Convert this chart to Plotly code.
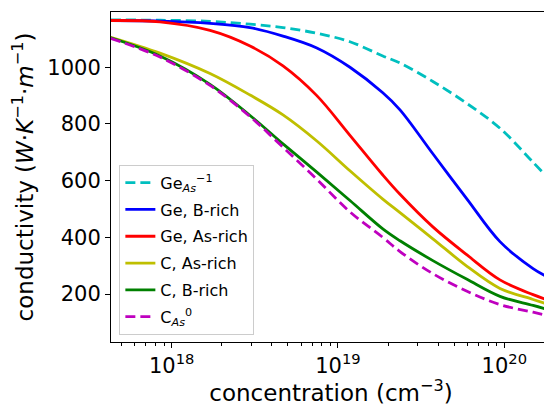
import plotly.graph_objects as go

# concentration (cm^-3)
concentration = [4.3e17, 8.5e17, 1.70e18, 2.96e18, 4.67e18, 7.46e18, 1.18e19,
                 1.86e19, 2.36e19, 3.72e19, 5.97e19, 9.42e19, 1.49e20, 1.93e20]

ge_as_m1 = [1167, 1166, 1162, 1152, 1140, 1120, 1090, 1040, 1015, 950, 872, 785, 665, 595]
ge_b_rich = [1165, 1163, 1155, 1140, 1110, 1068, 1000, 910, 850, 695, 535, 385, 290, 252]
ge_as_rich = [1165, 1160, 1130, 1075, 1005, 900, 760, 620, 552, 437, 338, 250, 198, 174]
c_as_rich = [1106, 1050, 978, 902, 832, 740, 635, 535, 487, 395, 298, 220, 181, 160]
c_b_rich = [1104, 1040, 940, 830, 730, 630, 530, 430, 388, 318, 252, 192, 160, 141]
c_as_0 = [1102, 1036, 936, 826, 718, 605, 490, 400, 350, 272, 210, 163, 136, 121]

series = [
    ("Ge<sub><i>As</i></sub><sup>−1</sup>", ge_as_m1, "#00BFBF", "10px,5px"),
    ("Ge, B-rich", ge_b_rich, "#0000FF", "solid"),
    ("Ge, As-rich", ge_as_rich, "#FF0000", "solid"),
    ("C, As-rich", c_as_rich, "#BFBF00", "solid"),
    ("C, B-rich", c_b_rich, "#008000", "solid"),
    ("C<sub><i>As</i></sub><sup>0</sup>", c_as_0, "#BF00BF", "10px,5px"),
]

x_major = [1e18, 1e19, 1e20]
x_major_text = ["10<sup>18</sup>", "10<sup>19</sup>", "10<sup>20</sup>"]
x_minor = [k * 10.0 ** d for d in (17, 18, 19, 20) for k in range(2, 10)]
y_ticks = [200, 400, 600, 800, 1000]

fig = go.Figure()
for i, (name, vals, color, dash) in enumerate(series):
    fig.add_trace(go.Scatter(x=concentration, y=vals, mode="lines", name=name,
                             legendgroup=f"g{i}",
                             line=dict(color=color, width=2.8, dash=dash, shape="spline", smoothing=1.0)))

font = "DejaVu Sans"
# page body has an 8px default margin, so the figure is sized 544x398
fig.update_layout(
    width=544, height=398,
    margin=dict(l=103, r=1, t=4, b=64),
    paper_bgcolor="white", plot_bgcolor="white",
    font=dict(family=font, color="black", size=21),
    legend=dict(x=0.019, y=0.022, xanchor="left", yanchor="bottom",
                bordercolor="#cccccc", borderwidth=1, bgcolor="rgba(255,255,255,0.8)",
                font=dict(size=16, family=font), tracegroupgap=3, itemwidth=30),
    xaxis=dict(type="log", range=[17.635, 20.281], showgrid=False, zeroline=False,
               automargin=False,
               showline=True, linecolor="black", linewidth=1, mirror=True,
               ticks="outside", ticklen=5, tickcolor="black",
               tickvals=x_major, ticktext=x_major_text, tickfont=dict(size=21),
               minor=dict(tickvals=x_minor, ticks="outside", ticklen=3, tickcolor="black"),
               title=dict(text="concentration (cm<sup>−3</sup>)", font=dict(size=23), standoff=5)),
    yaxis=dict(range=[31, 1195], showgrid=False, zeroline=False,
               automargin=False,
               showline=True, linecolor="black", linewidth=1, mirror=True,
               ticks="outside", ticklen=5, tickcolor="black",
               tickvals=y_ticks, tickfont=dict(size=21),
               title=dict(text="conductivity (<i>W</i>·<i>K</i><sup>−1</sup>·<i>m</i><sup>−1</sup>)",
                          font=dict(size=23), standoff=8)),
)

fig.write_html("out.html")
